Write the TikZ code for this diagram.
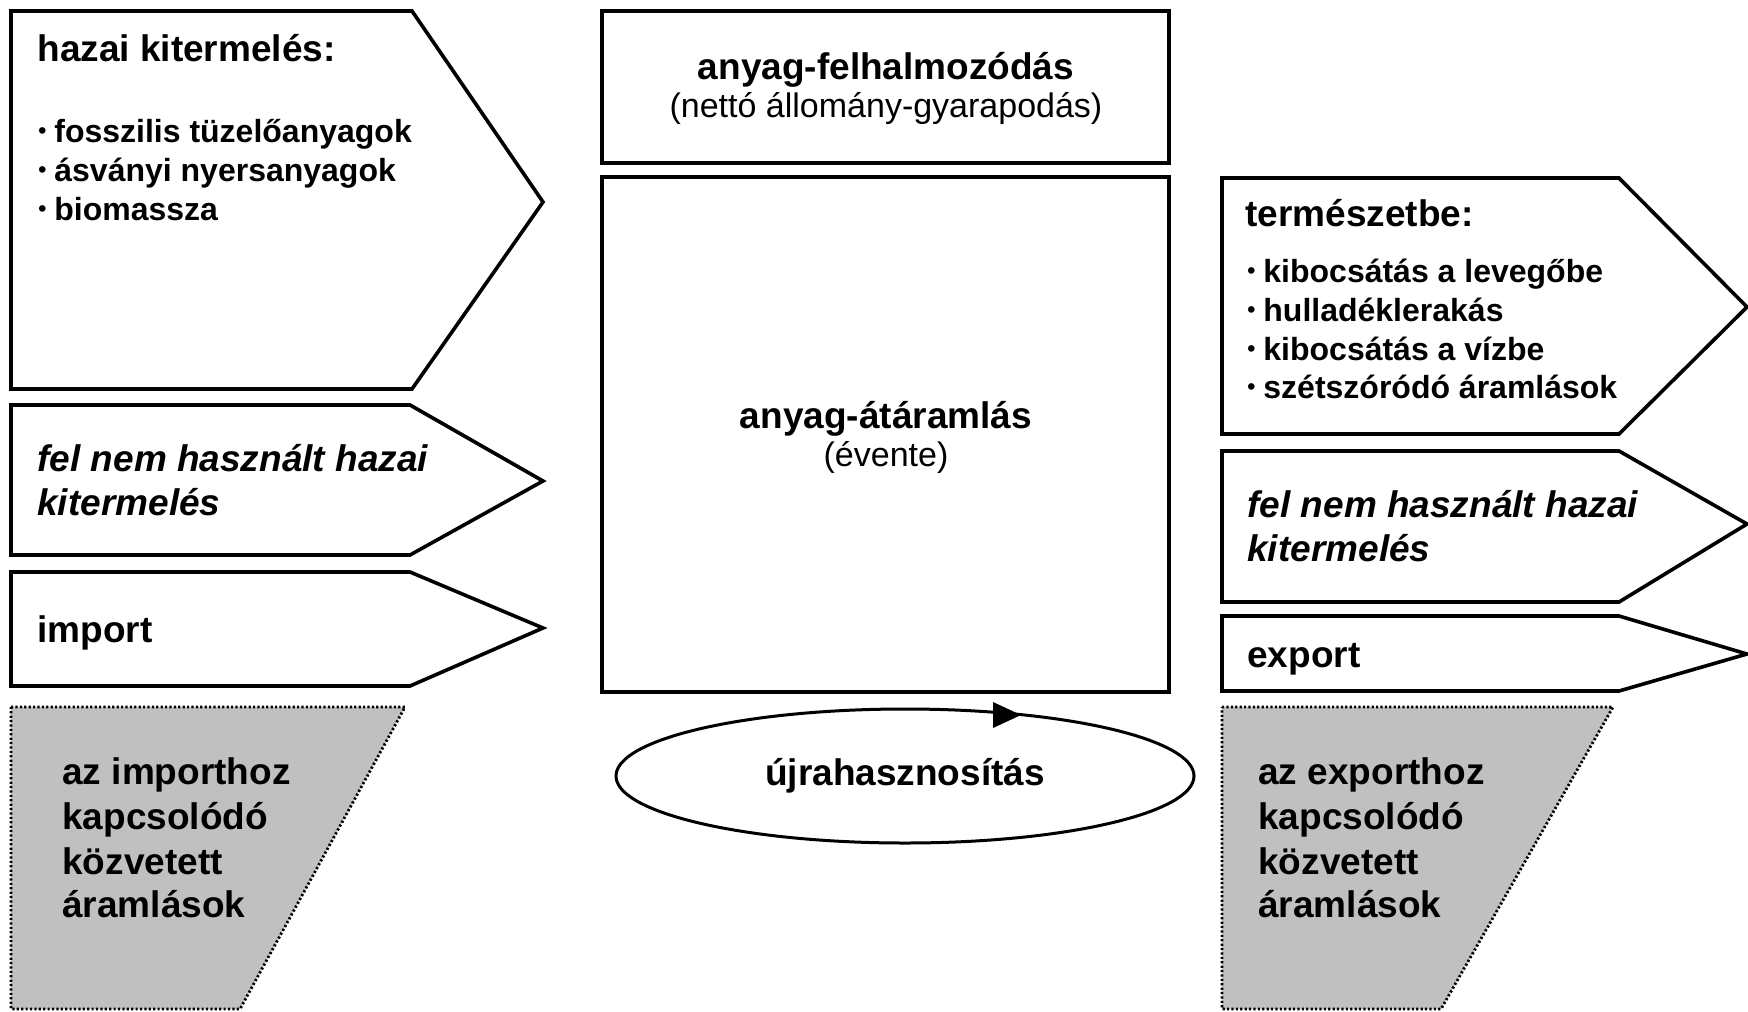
\documentclass[tikz,border=0pt]{standalone}
\usepackage{fontspec}
\setmainfont{Liberation Sans}
\usetikzlibrary{shapes.geometric}
\definecolor{panelgray}{RGB}{192,192,192}
% small raised bullet with a fixed hanging indent
\newcommand{\itembullet}{\makebox[8.5pt][l]{\hspace{0.5pt}\raisebox{1.6pt}{\fontsize{11.5}{11.5}\selectfont\textbullet}}}

\begin{document}
\begin{tikzpicture}[x=0.5pt, y=-0.5pt,
  outline/.style={draw=black, line width=1.8pt, line join=miter, fill=white},
  indirect/.style={draw=black, fill=panelgray, line width=1.4pt, dash pattern=on 1.1pt off 1.1pt},
  head/.style={font=\fontsize{18.5}{22}\selectfont\bfseries, anchor=base west, inner sep=0pt},
  headit/.style={font=\fontsize{18.5}{22}\selectfont\bfseries\itshape, anchor=base west, inner sep=0pt},
  headc/.style={font=\fontsize{18.5}{22}\selectfont\bfseries, anchor=base, inner sep=0pt},
  sub/.style={font=\fontsize{17}{20}\selectfont, anchor=base, inner sep=0pt},
  item/.style={font=\fontsize{16}{19.5}\selectfont\bfseries, anchor=base west, inner sep=0pt},
]
\useasboundingbox (0,0) rectangle (1748,1011);
\fill[white] (0,0) rectangle (1748,1011);

% ---------- inflows (left column) ----------
\draw[outline] (11,11) -- (412,11) -- (543,202) -- (412,389) -- (11,389) -- cycle;
\node[head] (dme-title) at (37,62) {hazai kitermelés:};
\node[item] (dme-1) at (37,142) {\itembullet fosszilis tüzelőanyagok};
\node[item] (dme-2) at (37,181) {\itembullet ásványi nyersanyagok};
\node[item] (dme-3) at (37,220) {\itembullet biomassza};

\draw[outline] (11,405) -- (410,405) -- (543,481) -- (410,555) -- (11,555) -- cycle;
\node[headit] (unused-in-1) at (37,471) {fel nem használt hazai};
\node[headit] (unused-in-2) at (37,515) {kitermelés};

\draw[outline] (11,572) -- (410,572) -- (543,628) -- (410,686) -- (11,686) -- cycle;
\node[head] (imp) at (37,642) {import};

\draw[indirect] (11,707) -- (405,707) -- (240,1009) -- (11,1009) -- cycle;
\node[head] (imp-ind-1) at (62,784) {az importhoz};
\node[head] (imp-ind-2) at (62,829) {kapcsolódó};
\node[head] (imp-ind-3) at (62,874) {közvetett};
\node[head] (imp-ind-4) at (62,917) {áramlások};

% ---------- economy (centre) ----------
\draw[outline] (602,11) rectangle (1169,163);
\node[headc] (stock) at (886,80) {anyag-felhalmozódás};
\node[sub] (stock-sub) at (886,118) {(nettó állomány-gyarapodás)};

\draw[outline] (602,177) rectangle (1169,692);
\node[headc] (through) at (886,428) {anyag-átáramlás};
\node[sub] (through-sub) at (886,466) {(évente)};

\node[ellipse, draw=black, line width=1.5pt, minimum width=289pt, minimum height=67pt,
      inner sep=0pt, font=\fontsize{18.5}{22}\selectfont\bfseries] (recycle) at (905,776) {újrahasznosítás};
\fill[black] (993,702) -- (1021,715) -- (993,728) -- cycle;

% ---------- outflows (right column) ----------
\draw[outline] (1222,178) -- (1619,178) -- (1747,307) -- (1619,434) -- (1222,434) -- cycle;
\node[head] (dpo-title) at (1245,226) {természetbe:};
\node[item] (dpo-1) at (1246,282) {\itembullet kibocsátás a levegőbe};
\node[item] (dpo-2) at (1246,321) {\itembullet hulladéklerakás};
\node[item] (dpo-3) at (1246,360) {\itembullet kibocsátás a vízbe};
\node[item] (dpo-4) at (1246,398) {\itembullet szétszóródó áramlások};

\draw[outline] (1222,451) -- (1619,451) -- (1747,524) -- (1619,602) -- (1222,602) -- cycle;
\node[headit] (unused-out-1) at (1247,517) {fel nem használt hazai};
\node[headit] (unused-out-2) at (1247,561) {kitermelés};

\draw[outline] (1222,616) -- (1619,616) -- (1747,654) -- (1619,691) -- (1222,691) -- cycle;
\node[head] (exp) at (1247,667) {export};

\draw[indirect] (1222,707) -- (1613,707) -- (1441,1009) -- (1222,1009) -- cycle;
\node[head] (exp-ind-1) at (1258,784) {az exporthoz};
\node[head] (exp-ind-2) at (1258,829) {kapcsolódó};
\node[head] (exp-ind-3) at (1258,874) {közvetett};
\node[head] (exp-ind-4) at (1258,917) {áramlások};
\end{tikzpicture}
\end{document}
